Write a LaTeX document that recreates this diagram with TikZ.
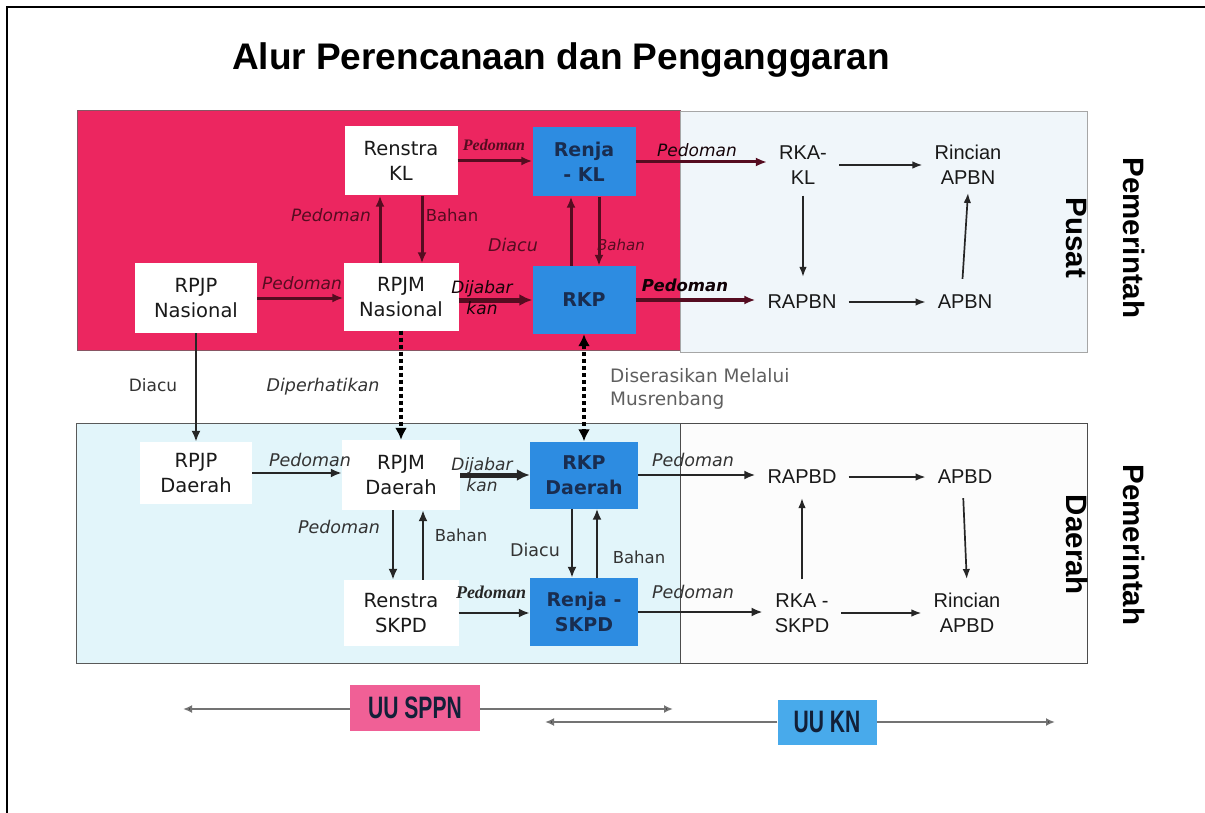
\documentclass[tikz,border=0pt]{standalone}
\usepackage{fontspec}
\setmainfont{Liberation Sans}
\newfontfamily\vf{DejaVu Sans}
\newfontfamily\serifb{Liberation Serif}
\usetikzlibrary{arrows.meta}
\definecolor{pinkbg}{RGB}{236,38,96}
\definecolor{boxblue}{RGB}{45,140,225}
\definecolor{trbg}{RGB}{240,246,250}
\definecolor{blbg}{RGB}{226,245,250}
\definecolor{brbg}{RGB}{252,252,252}
\definecolor{sppncol}{RGB}{240,96,150}
\definecolor{kncol}{RGB}{72,170,235}
\definecolor{maroon}{RGB}{85,12,32}
\definecolor{navytext}{RGB}{25,45,80}
\definecolor{musgray}{RGB}{95,95,95}
\begin{document}
\begin{tikzpicture}[x=1pt,y=-1pt,
  wbox/.style={fill=white, inner sep=0pt, align=center, text=black!90, font=\vf\fontsize{19.5}{25}\selectfont},
  bbox/.style={fill=boxblue, inner sep=0pt, align=center, text=navytext, font=\vf\bfseries\fontsize{19}{25}\selectfont},
  plain/.style={inner xsep=12pt, inner ysep=8pt, align=center, text=black!90, font=\fontsize{20}{25}\selectfont},
  lblm/.style={inner sep=0pt, align=center, text=maroon, font=\vf\fontsize{16.5}{21}\selectfont},
  lblmi/.style={lblm, font=\vf\itshape\fontsize{17}{21}\selectfont},
  lbld/.style={inner sep=0pt, align=center, text=black!80, font=\vf\fontsize{16.5}{21}\selectfont},
  lbldi/.style={lbld, font=\vf\itshape\fontsize{17.5}{21}\selectfont},
  lblbi/.style={inner sep=0pt, text=black!85, font=\serifb\bfseries\itshape\fontsize{18}{20}\selectfont},
  marr/.style={draw=maroon, line width=3pt, -{Latex[length=11pt,width=9pt]}},
  darr/.style={draw=black!85, line width=2.8pt, -{Latex[length=11pt,width=9pt]}},
  thickarr/.style={line width=5pt, -{Latex[length=13pt,width=12pt]}},
  tarr/.style={draw=black!85, line width=1.7pt, -{Latex[length=10pt,width=7.5pt]}},
  dotarr/.style={draw=black, line width=4.5pt, dash pattern=on 4pt off 3pt, -{Latex[length=12pt,width=12pt]}},
  uuarr/.style={draw=black!55, line width=2.4pt, -{Latex[length=9pt,width=8pt]}, arrows={[fill=black]}},
  uubox/.style={inner sep=0pt, text=navytext!70!black, font=\bfseries\fontsize{31}{34}\selectfont},
  side/.style={rotate=-90, align=center, inner sep=0pt, font=\bfseries\fontsize{29.5}{57}\selectfont}
]
\useasboundingbox (0,0) rectangle (1205,813);
\fill[white] (0,0) rectangle (1205,813);
% frame
\draw[line width=2pt] (7,813) -- (7,7) -- (1205,7);
% title
\node[font=\bfseries\fontsize{37}{40}\selectfont] (title) at (561,60) {Alur Perencanaan dan Penganggaran};
% regions
\fill[pinkbg] (77,110) rectangle (680,350);
\draw[maroon!70, line width=0.8pt] (77,110) rectangle (680,350);
\filldraw[fill=trbg, draw=gray!70, line width=1pt] (680,112) rectangle (1087,352);
\filldraw[fill=blbg, draw=black!65, line width=1pt] (76,423) rectangle (680,663);
\filldraw[fill=brbg, draw=black!70, line width=1pt] (680,423) rectangle (1087,663);

% top nodes
\node[wbox, minimum width=113pt, minimum height=69pt] (renstrakl) at (401,161) {Renstra\\KL};
\node[bbox, minimum width=103pt, minimum height=69pt] (renjakl) at (584,162) {Renja\\- KL};
\node[wbox, minimum width=122pt, minimum height=70pt] (rpjpn) at (196,298) {RPJP\\Nasional};
\node[wbox, minimum width=115pt, minimum height=67pt] (rpjmn) at (401,297) {RPJM\\Nasional};
\node[bbox, minimum width=103pt, minimum height=68pt] (rkp) at (584,300) {RKP};
\node[plain] (rkakl) at (803,165) {RKA-\\KL};
\node[plain] (rincapbn) at (968,165) {Rincian\\APBN};
\node[plain] (rapbn) at (802,302) {RAPBN};
\node[plain] (apbn) at (965,302) {APBN};
\node[side] (pusat) at (1106,238) {Pemerintah\\Pusat};

% bottom nodes
\node[wbox, minimum width=112pt, minimum height=62pt] (rpjpd) at (196,473) {RPJP\\Daerah};
\node[wbox, minimum width=118pt, minimum height=70pt] (rpjmd) at (401,475) {RPJM\\Daerah};
\node[bbox, minimum width=108pt, minimum height=67pt] (rkpd) at (584,475) {RKP\\Daerah};
\node[wbox, minimum width=115pt, minimum height=66pt] (renstraskpd) at (401,613) {Renstra\\SKPD};
\node[bbox, minimum width=108pt, minimum height=68pt] (renjaskpd) at (584,612) {Renja -\\SKPD};
\node[plain] (rapbd) at (802,477) {RAPBD};
\node[plain] (apbd) at (965,477) {APBD};
\node[plain] (rkaskpd) at (802,613) {RKA -\\SKPD};
\node[plain] (rincapbd) at (967,613) {Rincian\\APBD};
\node[side] (daerah) at (1106,545) {Pemerintah\\Daerah};

% top arrows
\draw[marr] (renstrakl.east) -- (renstrakl.east -| renjakl.west);
\draw[marr] (rpjpn.east) -- (rpjpn.east -| rpjmn.west);
\draw[marr, thickarr] (rpjmn.east |- rkp.west) -- (rkp.west);
\draw[marr] ([xshift=-21pt]rpjmn.north) -- ([xshift=-21pt]renstrakl.south);
\draw[marr] ([xshift=21pt]renstrakl.south) -- ([xshift=21pt]rpjmn.north);
\draw[marr] ([xshift=-13pt]rkp.north) -- ([xshift=-13pt]renjakl.south);
\draw[marr] ([xshift=15pt]renjakl.south) -- ([xshift=15pt]rkp.north);
\draw[marr] (renjakl.east) -- (renjakl.east -| rkakl.west);
\draw[marr, line width=3.4pt] (rkp.east) -- (rkp.east -| rapbn.west);
\draw[tarr] (rkakl.east) -- (rincapbn.west);
\draw[tarr, shorten <=3pt, shorten >=10pt] (rkakl.south) -- (rkakl.south |- rapbn.north);
\draw[tarr] (rapbn.east) -- (apbn.west);
\draw[tarr, shorten <=8pt] ([xshift=-3pt]apbn.north) -- (rincapbn.south);

% labels top
\node[lblbi, text=maroon, font=\serifb\bfseries\itshape\fontsize{16}{18}\selectfont] (l1) at (494,145) {Pedoman};
\node[lblmi] (l2) at (331,215) {Pedoman};
\node[lblm] (l3) at (452,215) {Bahan};
\node[lblmi] (l4) at (302,283) {Pedoman};
\node[lblmi, font=\vf\itshape\fontsize{17}{21}\selectfont, text=black!75!maroon] (l5) at (482,298) {Dijabar\\kan};
\node[lblmi, font=\vf\itshape\fontsize{17.5}{21}\selectfont] (l6) at (513,245) {Diacu};
\node[lblmi, font=\vf\itshape\fontsize{15}{18}\selectfont] (l7) at (621,245) {Bahan};
\node[lblmi, text=black!75!maroon] (l8) at (697,150) {Pedoman};
\node[lblmi, font=\vf\bfseries\itshape\fontsize{16.5}{21}\selectfont, text=black!80!maroon] (l9) at (685,285) {Pedoman};

% middle
\draw[darr] (rpjpn.south) -- (rpjpd.north);
\draw[dotarr] (rpjmn.south) -- (rpjmd.north);
\draw[dotarr, {Latex[length=12pt,width=12pt]}-{Latex[length=12pt,width=12pt]}] (rkp.south) -- (rkpd.north);
\node[lbld, font=\vf\fontsize{17}{21}\selectfont] (l10) at (153,385) {Diacu};
\node[lbldi, font=\vf\itshape\fontsize{17.5}{21}\selectfont] (l11) at (323,387) {Diperhatikan};
\node[anchor=north west, inner sep=0pt, align=left, text=musgray, font=\vf\fontsize{18.5}{23}\selectfont] (l12) at (610,368) {Diserasikan Melalui\\Musrenbang};

% bottom arrows
\draw[darr] (rpjpd.east) -- (rpjpd.east -| rpjmd.west);
\draw[darr, thickarr] (rpjmd.east) -- (rpjmd.east -| rkpd.west);
\draw[darr] ([xshift=-8pt]rpjmd.south) -- ([xshift=-8pt]renstraskpd.north);
\draw[darr, line width=2pt] ([xshift=22pt]renstraskpd.north) -- ([xshift=22pt]rpjmd.south);
\draw[darr] ([xshift=-12pt]rkpd.south) -- ([xshift=-12pt]renjaskpd.north);
\draw[darr] ([xshift=13pt]renjaskpd.north) -- ([xshift=13pt]rkpd.south);
\draw[darr] (renstraskpd.east) -- (renstraskpd.east -| renjaskpd.west);
\draw[darr] (rkpd.east) -- (rkpd.east -| rapbd.west);
\draw[darr] (renjaskpd.east) -- (renjaskpd.east -| rkaskpd.west);
\draw[tarr] (rapbd.east) -- (apbd.west);
\draw[tarr, shorten <=6pt, shorten >=6pt] (rkaskpd.north) -- (rapbd.south);
\draw[tarr, shorten <=6pt, shorten >=6pt] ([xshift=-2pt]apbd.south) -- (rincapbd.north);
\draw[tarr] (rkaskpd.east) -- (rincapbd.west);

% labels bottom
\node[lbldi] (l13) at (310,460) {Pedoman};
\node[lbldi, font=\vf\itshape\fontsize{17}{21}\selectfont] (l14) at (482,475) {Dijabar\\kan};
\node[lbldi] (l15) at (339,527) {Pedoman};
\node[lbld] (l16) at (461,535) {Bahan};
\node[lbld, font=\vf\fontsize{17.5}{21}\selectfont] (l17) at (535,550) {Diacu};
\node[lbld] (l18) at (639,557) {Bahan};
\node[lblbi] (l19) at (491,592) {Pedoman};
\node[lbldi] (l20) at (693,460) {Pedoman};
\node[lbldi] (l21) at (693,592) {Pedoman};

% bottom laws
\coordinate (s1) at (183,709);
\coordinate (s2) at (673,709);
\coordinate (k1) at (545,722);
\coordinate (k2) at (1055,722);
\node[uubox, fill=sppncol, minimum width=130pt, minimum height=46pt] (sppn) at (415,708) {\scalebox{0.68}[1]{UU SPPN}};
\node[uubox, fill=kncol, minimum width=99pt, minimum height=45pt] (kn) at (827,722) {\scalebox{0.68}[1]{UU KN}};
\draw[uuarr] (sppn.west |- s1) -- (s1);
\draw[uuarr] (sppn.east |- s2) -- (s2);
\draw[uuarr] (kn.west |- k1) -- (k1);
\draw[uuarr] (kn.east |- k2) -- (k2);
\end{tikzpicture}
\end{document}
